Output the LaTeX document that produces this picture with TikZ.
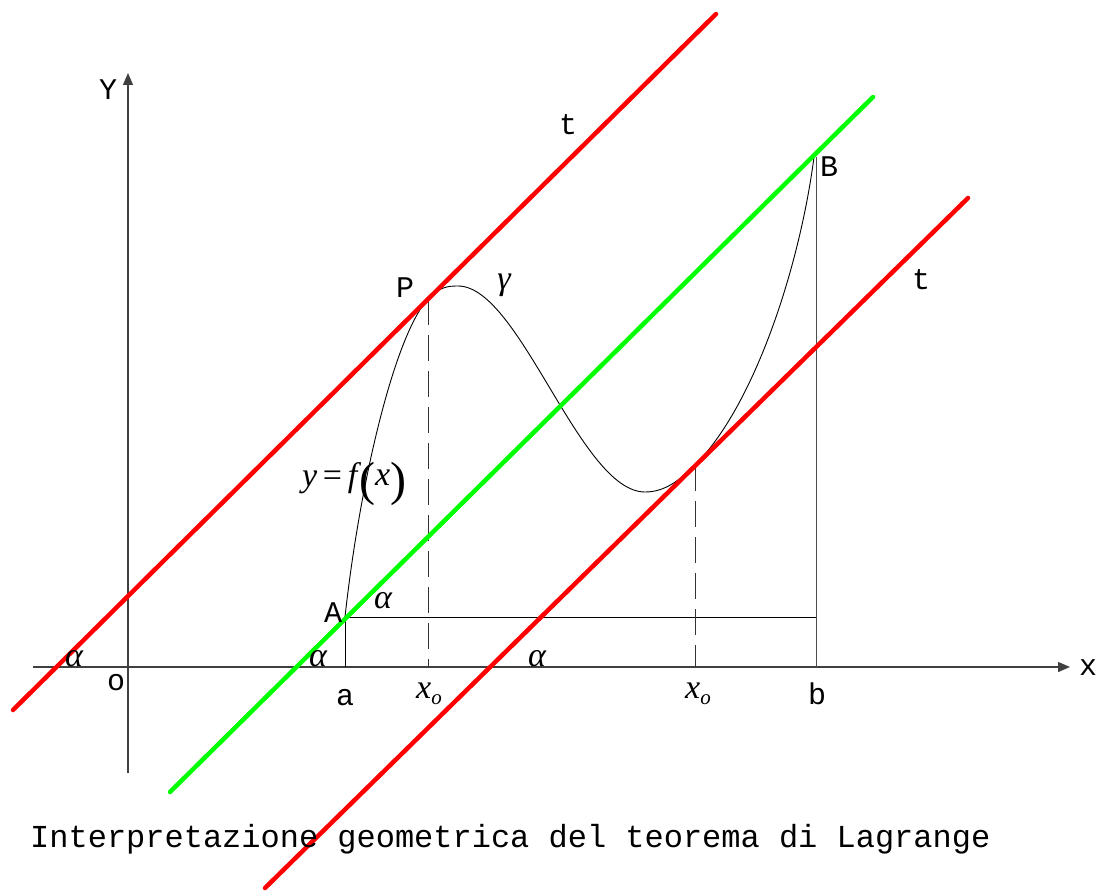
\documentclass[tikz,border=0pt]{standalone}
\usepackage{fontspec}
\newfontfamily\mono{Liberation Mono}
\newfontfamily\serif{Liberation Serif}
\usetikzlibrary{arrows.meta}
\begin{document}
\begin{tikzpicture}[x=1pt,y=-1pt,
  axis/.style={draw=black!75,line width=1.3pt,-{Triangle[length=12pt,width=10pt]}},
  thin/.style={draw=black,line width=0.9pt},
  dashline/.style={draw=black!80,line width=0.9pt,dash pattern=on 26pt off 10pt},
  redline/.style={draw=red,line width=4.5pt,line cap=round},
  greenline/.style={draw=green,line width=4.5pt,line cap=round},
  monolbl/.style={font=\mono\fontsize{30}{30}\selectfont,inner sep=0pt},
  greek/.style={font=\serif\itshape\fontsize{34}{34}\selectfont,inner sep=0pt,anchor=base},
  ital/.style={font=\serif\itshape\fontsize{34}{34}\selectfont,inner sep=0pt}]
\useasboundingbox (0,0) rectangle (1099,893);
\fill[white] (0,0) rectangle (1099,893);
% coordinates
\coordinate (xs) at (33,667);
\coordinate (xe) at (1070,667);
\coordinate (ys) at (128,773);
\coordinate (ye) at (128,73);
\coordinate (A) at (345,617);
\coordinate (P) at (428,299);
\coordinate (T) at (695,465);
\coordinate (B) at (814,157);
\coordinate (Bv) at (816,157);
\coordinate (Bx) at (816,667);
\coordinate (Ax) at (345,667);
\coordinate (Ah) at (816,617);
\coordinate (Px) at (428,667);
\coordinate (Tx) at (695,667);
\coordinate (r1s) at (13,710);
\coordinate (r1e) at (716,14);
\coordinate (gs) at (170,792);
\coordinate (ge) at (873,97);
\coordinate (r2s) at (265,888);
\coordinate (r2e) at (968,198);
% axes
\draw[axis] (xs) -- (xe);
\draw[axis] (ys) -- (ye);
% verticals and horizontal
\draw[thin] (A) -- (Ax);
\draw[thin] (A) -- (Ah);
\draw[thin,draw=black!70] (Bv) -- (Bx);
\draw[dashline] (P) -- (Px);
\draw[dashline] (T) -- (Tx);
% curve
\draw[thin] (A) .. controls (360,480) and (395,335) .. (P)
  .. controls (440,287) and (447,286) .. (458,286)
  .. controls (520,286) and (580,492) .. (645,492)
  .. controls (665,492) and (680,480) .. (T)
  .. controls (755,405) and (800,265) .. (B);
% coloured lines
\draw[redline] (r1s) -- (r1e);
\draw[greenline] (gs) -- (ge);
\draw[redline] (r2s) -- (r2e);
% labels
\node[monolbl] (lY) at (108,90) {Y};
\node[monolbl] (lx) at (1088,668) {x};
\node[monolbl] (lO) at (116,683) {o};
\node[monolbl] (lt1) at (568,125) {t};
\node[monolbl] (lt2) at (921,280) {t};
\node[monolbl] (lP) at (405,288) {P};
\node[monolbl] (lB) at (829,167) {B};
\node[monolbl] (lA) at (333,613) {A};
\node[monolbl] (la) at (345,698) {a};
\node[monolbl] (lb) at (817,694) {b};
\node[greek] (al1) at (383,608) {α};
\node[greek] (al2) at (74,666) {α};
\node[greek] (al3) at (318,666) {α};
\node[greek] (al4) at (537,666) {α};
\node[greek,anchor=center] (gam) at (504,285) {γ};
\node[ital] (xo1) at (429,694) {x\raisebox{-6pt}{\fontsize{21}{21}\selectfont o}};
\node[ital] (xo2) at (698,694) {x\raisebox{-6pt}{\fontsize{21}{21}\selectfont o}};
\node[font=\serif\itshape\fontsize{34}{34}\selectfont,inner sep=0pt,anchor=base west] (fx) at (302,486) {y\,{\upshape=}\,f\hspace{2pt}\raisebox{-9pt}{\upshape\fontsize{48}{48}\selectfont(}\raisebox{1pt}{x}\raisebox{-9pt}{\upshape\fontsize{48}{48}\selectfont)}};
\node[font=\mono\fontsize{32}{32}\selectfont,inner sep=0pt,anchor=base west] (cap) at (30,847) {Interpretazione geometrica del teorema di Lagrange};
\end{tikzpicture}
\end{document}
